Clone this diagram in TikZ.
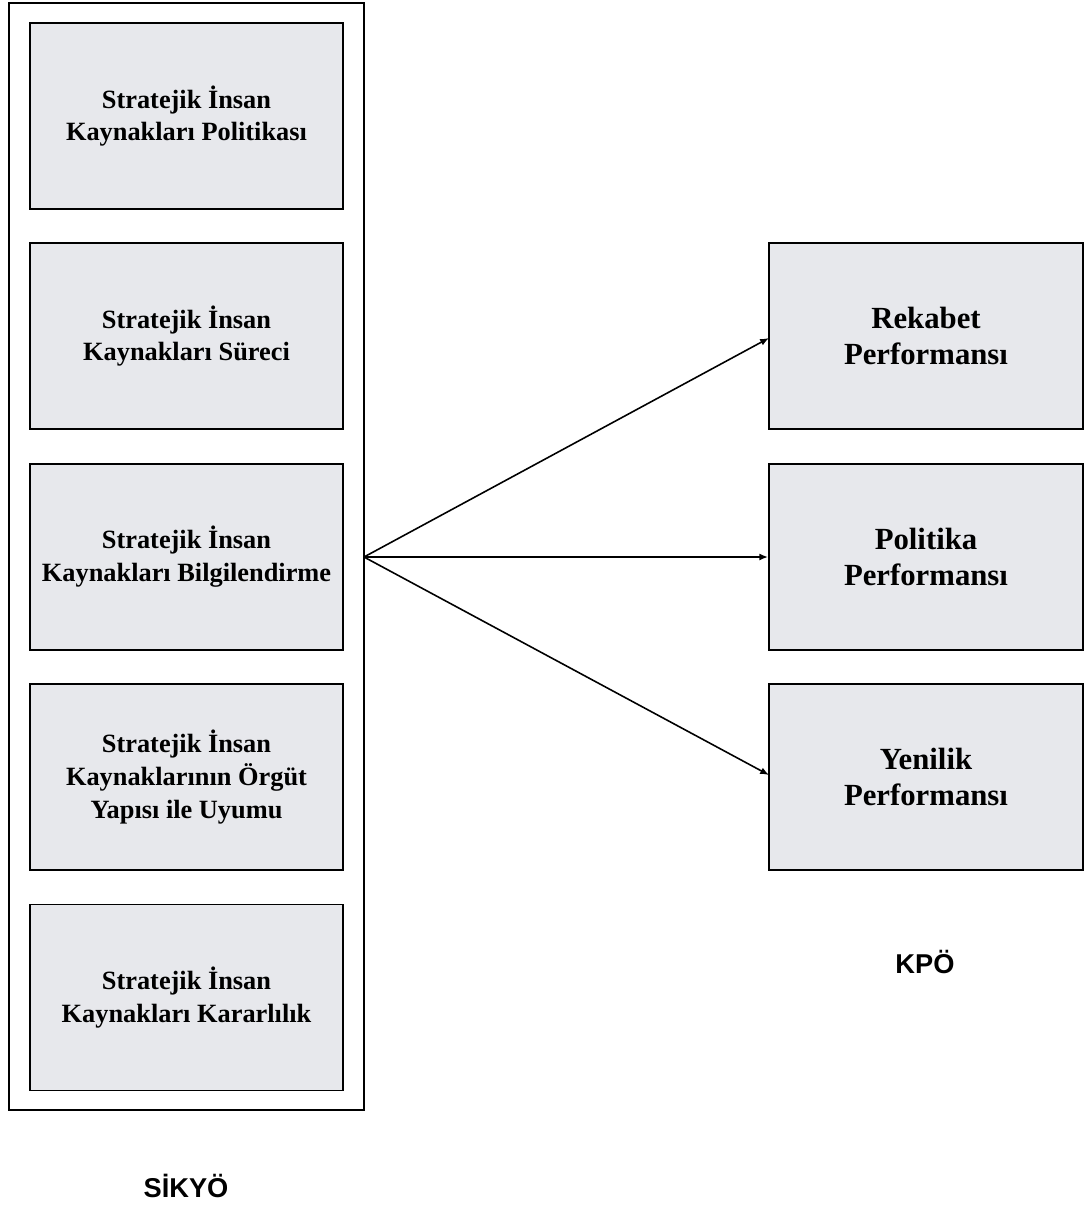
\documentclass[tikz,border=0pt]{standalone}
\usepackage{fontspec}
\setmainfont{Liberation Serif}
\setsansfont{Liberation Sans}
\usetikzlibrary{arrows.meta}
\definecolor{boxfill}{HTML}{E7E8EC}
\tikzset{
  leftbox/.style={draw=black, line width=1.1pt, fill=boxfill, minimum width=6.26cm, minimum height=3.72cm, inner sep=0pt, align=center, font=\bfseries\fontsize{15}{18.7}\selectfont},
  rightbox/.style={draw=black, line width=1.1pt, fill=boxfill, minimum width=6.28cm, minimum height=3.72cm, inner sep=0pt, align=center, font=\bfseries\fontsize{17.5}{20.5}\selectfont},
  outerbox/.style={draw=black, line width=1.1pt, minimum width=7.1cm, minimum height=22.14cm, inner sep=0pt},
  conn/.style={line width=0.9pt, -{Latex[length=5pt,width=4pt]}},
  grouplabel/.style={font=\sffamily\bfseries\fontsize{15.5}{18}\selectfont}
}
\begin{document}
\begin{tikzpicture}[x=0.02cm, y=-0.02cm]
\useasboundingbox (0,0) rectangle (1088,1205);
\node[outerbox] (outer) at (186.5,556.5) {};
\node[leftbox] (l1) at (186.5,116) {Stratejik İnsan\\Kaynakları Politikası};
\node[leftbox] (l2) at (186.5,336) {Stratejik İnsan\\Kaynakları Süreci};
\node[leftbox] (l3) at (186.5,557) {Stratejik İnsan\\Kaynakları Bilgilendirme};
\node[leftbox] (l4) at (186.5,777) {Stratejik İnsan\\Kaynaklarının Örgüt\\Yapısı ile Uyumu};
\node[leftbox] (l5) at (186.5,997.5) {Stratejik İnsan\\Kaynakları Kararlılık};
\node[rightbox] (r1) at (926,336) {Rekabet\\Performansı};
\node[rightbox] (r2) at (926,557) {Politika\\Performansı};
\node[rightbox] (r3) at (926,777) {Yenilik\\Performansı};
\coordinate (src) at (364,557);
\coordinate (t1) at (769,338);
\coordinate (t3) at (769,775);
\draw[conn] (src) -- (t1);
\draw[conn] (src) -- (r2.west);
\draw[conn] (src) -- (t3);
\node[grouplabel] (kpo) at (925,962) {KPÖ};
\node[grouplabel] (sikyo) at (186,1186) {SİKYÖ};
\end{tikzpicture}
\end{document}
